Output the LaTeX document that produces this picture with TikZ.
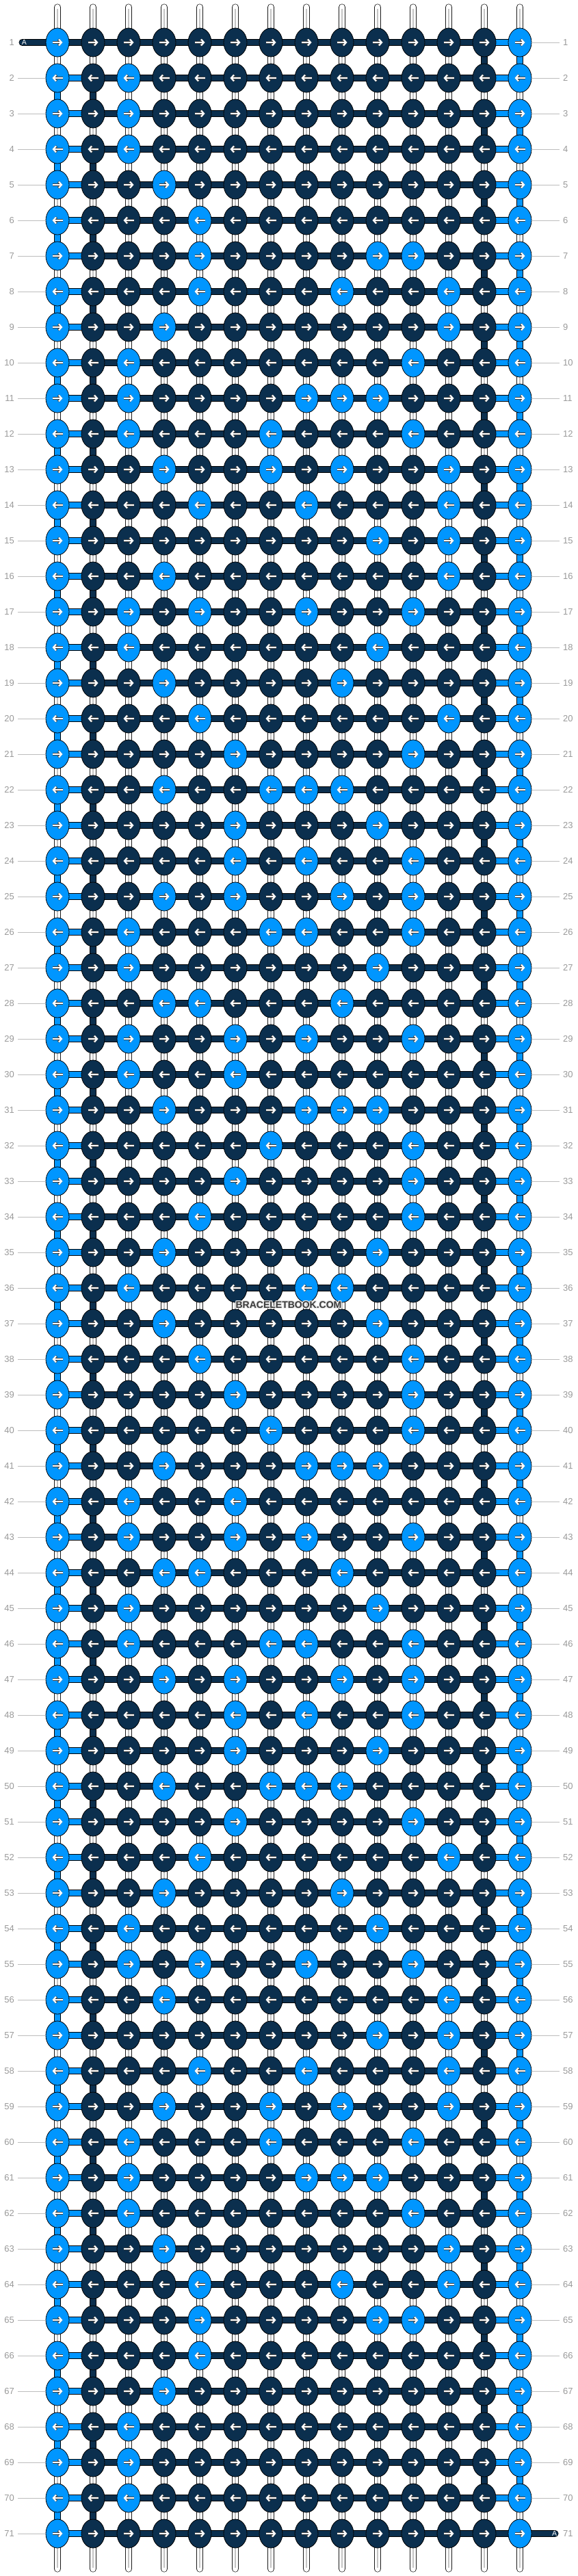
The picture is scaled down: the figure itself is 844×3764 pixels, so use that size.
\documentclass[tikz,border=0pt]{standalone}
\usepackage{fontspec}
\setmainfont{Liberation Sans}
\usetikzlibrary{arrows.meta,shapes.geometric}
\pgfdeclarelayer{bg}
\pgfsetlayers{bg,main}
\definecolor{dk}{HTML}{0B2F4E}
\definecolor{lt}{HTML}{0096FF}
\definecolor{labc}{HTML}{9A9A9A}
\definecolor{labl}{HTML}{BDBDBD}
\definecolor{tubeb}{HTML}{1A1A1A}
\definecolor{tubei}{HTML}{C4C4C4}
\definecolor{wm}{HTML}{3A3A3A}
\definecolor{halo}{HTML}{E6E6E6}
\tikzset{
 knot/.style={ellipse,draw=black,line width=0.8pt,minimum width=34pt,minimum height=42pt,inner sep=0pt},
 con/.style={draw=black,line width=0.7pt,double=#1,double distance=8.6pt},
 tube/.style={draw=tubeb,line width=0.7pt,double=white,double distance=8.6pt},
 tubein/.style={draw=tubei,line width=1.1pt},
 arrbk/.style={draw=black!75,line width=3.4pt,-{Straight Barb[length=4pt,width=9pt]}},
 arrwh/.style={draw=white,line width=2.2pt,-{Straight Barb[length=4pt,width=9pt]}},
 lab/.style={text=labc,font=\fontsize{13}{13}\selectfont,inner sep=0pt},
 labline/.style={draw=labl,line width=1pt},
 tailtxt/.style={text=white,font=\fontsize{10.5}{10.5}\selectfont,inner sep=0pt},
 wmtxt/.style={font=\bfseries\fontsize{14}{14}\selectfont,inner sep=0pt},
}
\begin{document}
\begin{tikzpicture}[x=1pt,y=-1pt]
\useasboundingbox (0,0) rectangle (844,3764);
\begin{pgfonlayer}{bg}
\fill[white] (0,0) rectangle (844,3764);
\end{pgfonlayer}
% light knots (interior columns), rows 1..36, mirrored below
\foreach \r/\cs in {2/{3},3/{3},4/{3},5/{4},6/{5},7/{5,10,11},8/{5,9,12},9/{4,12},10/{3,11},11/{3,8,9,10},12/{3,7,11},13/{4,7,9,12},14/{5,8,12},15/{10,12},16/{4,12},17/{3,5,8,11},18/{3,10},19/{4,9},20/{5,12},21/{6,11},22/{4,7,8,9},23/{6,10},24/{6,8,11},25/{4,6,9,11},26/{3,7,8,11},27/{3,10},28/{4,5,9},29/{3,6,8,11},30/{3,6},31/{4,8,9,10},32/{7,11},33/{6,11},34/{5,11},35/{4,10},36/{3,8,9}}{%
  \foreach \j in \cs {\expandafter\gdef\csname lt-\r-\j\endcsname{}}}
% knots
\foreach \r in {1,...,71}{%
  \pgfmathtruncatemacro\yy{62+52*(\r-1)}%
  \pgfmathtruncatemacro\rr{min(\r,72-\r)}%
  \foreach \j in {1,...,14}{%
    \pgfmathtruncatemacro\xx{84+52*(\j-1)}%
    \def\kc{dk}%
    \ifcsname lt-\rr-\j\endcsname\def\kc{lt}\fi
    \ifnum\j=1 \def\kc{lt}\fi
    \ifnum\j=14 \def\kc{lt}\fi
    \node[knot,fill=\kc] (k-\r-\j) at (\xx,\yy) {};
  }%
}
% arrows
\foreach \r in {1,...,71}{%
  \pgfmathtruncatemacro\od{mod(\r,2)}%
  \ifnum\od=1 \def\axa{-7.5}\def\axb{7.5}\else\def\axa{7.5}\def\axb{-7.5}\fi
  \foreach \j in {1,...,14}{%
    \draw[arrbk] ([xshift=\axa pt]k-\r-\j.center) -- ([xshift=\axb pt]k-\r-\j.center);
    \draw[arrwh] ([xshift=\axa pt]k-\r-\j.center) -- ([xshift=\axb pt]k-\r-\j.center);
  }%
}
% threads behind the knots
\begin{pgfonlayer}{bg}
\foreach \j in {1,...,14}{%
  \pgfmathtruncatemacro\xx{84+52*(\j-1)}%
  \coordinate (top-\j) at (\xx,10.5);
  \coordinate (bot-\j) at (\xx,3753.5);
  \draw[tube,line cap=round] (top-\j) -- (k-1-\j.center);
  \draw[tubein] ([yshift=-2pt]top-\j) -- (k-1-\j.center);
  \draw[tube,line cap=round] (k-71-\j.center) -- (bot-\j);
  \draw[tubein] (k-71-\j.center) -- ([yshift=2pt]bot-\j);
}
\foreach \r in {1,...,70}{%
  \pgfmathtruncatemacro\rn{\r+1}%
  \pgfmathtruncatemacro\od{mod(\r,2)}%
  \foreach \j in {1,...,14}{%
    \def\vs{w}%
    \ifnum\od=0 \ifnum\j=1 \def\vs{l}\fi \ifnum\j=2 \def\vs{d}\fi\fi
    \ifnum\od=1 \ifnum\j=13 \def\vs{d}\fi \ifnum\j=14 \def\vs{l}\fi\fi
    \if\vs w\draw[tube] (k-\r-\j.center) -- (k-\rn-\j.center);
      \draw[tubein] (k-\r-\j.center) -- (k-\rn-\j.center);\fi
    \if\vs l\draw[con=lt] (k-\r-\j.center) -- (k-\rn-\j.center);\fi
    \if\vs d\draw[con=dk] (k-\r-\j.center) -- (k-\rn-\j.center);\fi
  }%
}
\foreach \r in {1,...,71}{%
  \foreach \j in {1,...,13}{%
    \pgfmathtruncatemacro\jn{\j+1}%
    \def\hc{dk}%
    \ifnum\j=1 \ifnum\r>1 \def\hc{lt}\fi\fi
    \ifnum\j=13 \ifnum\r<71 \def\hc{lt}\fi\fi
    \draw[con=\hc] (k-\r-\j.center) -- (k-\r-\jn.center);
  }%
}
\coordinate (tailL) at (32.5,62);
\coordinate (tailR) at (811.5,3702);
\draw[con=dk,line cap=round] (tailL) -- (k-1-1.center);
\draw[con=dk,line cap=round] (k-71-14.center) -- (tailR);
\end{pgfonlayer}
\node[tailtxt] (aL) at (35.5,62) {A};
\node[tailtxt] (aR) at (810.5,3702) {A};
% row numbers
\foreach \r in {1,...,71}{%
  \pgfmathtruncatemacro\yy{62+52*(\r-1)}%
  \node[lab,anchor=east] (ll-\r) at (21,\yy) {\r};
  \node[lab,anchor=west] (rl-\r) at (823,\yy) {\r};
  \ifnum\r>1 \draw[labline] ([xshift=5pt]ll-\r.east) -- (k-\r-1.west);\fi
  \ifnum\r<71 \draw[labline] (k-\r-14.east) -- ([xshift=-5pt]rl-\r.west);\fi
}
% watermark
\foreach \dx/\dy in {-1/0,1/0,0/-1,0/1,-1/-1,1/1,-1/1,1/-1}{%
  \node[wmtxt,text=halo] at (422+\dx,1907+\dy) {BRACELETBOOK.COM};
}
\node[wmtxt,text=wm] (wmark) at (422,1907) {BRACELETBOOK.COM};
\end{tikzpicture}
\end{document}
